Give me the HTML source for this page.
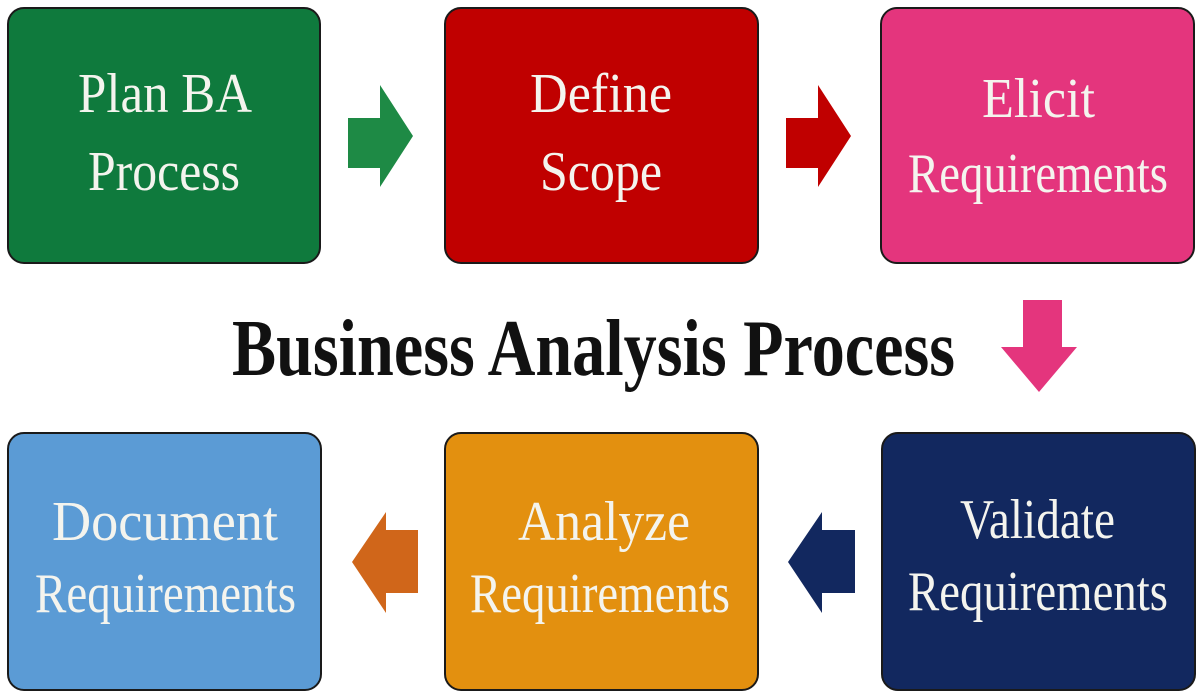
<!DOCTYPE html>
<html><head><meta charset="utf-8"><style>html,body{margin:0;padding:0;background:#fff}svg{display:block}</style></head>
<body>
<svg width="1200" height="699" viewBox="0 0 1200 699" xmlns="http://www.w3.org/2000/svg">
<g stroke="#1a1a1a" stroke-width="2">
<rect x="8" y="8" width="312" height="255" rx="16" fill="#0f7a3d"/>
<rect x="445" y="8" width="313" height="255" rx="16" fill="#c00000"/>
<rect x="881" y="8" width="313" height="255" rx="16" fill="#e4357d"/>
<rect x="8" y="433" width="313" height="257" rx="16" fill="#5b9bd5"/>
<rect x="445" y="433" width="313" height="257" rx="16" fill="#e3900f"/>
<rect x="882" y="433" width="313" height="257" rx="16" fill="#12285f"/>
</g>
<polygon points="348,118 380,118 380,85 413,136 380,187 380,168 348,168" fill="#1e8a45"/>
<polygon points="786,118 818,118 818,85 851,136 818,187 818,168 786,168" fill="#c00000"/>
<polygon points="1023,300 1062,300 1062,347 1077,347 1039,392 1001,347 1023,347" fill="#e4357d"/>
<polygon points="855,530 822,530 822,512 788,562 822,613 822,593 855,593" fill="#12285f"/>
<polygon points="418,530 386,530 386,512 352,562 386,613 386,593 418,593" fill="#d0661a"/>
<g font-family="Liberation Serif, serif" font-size="56" fill="#f4f4ee" lengthAdjust="spacingAndGlyphs">
<text x="78" y="112" textLength="174" lengthAdjust="spacingAndGlyphs">Plan BA</text>
<text x="88" y="190" textLength="152" lengthAdjust="spacingAndGlyphs">Process</text>
<text x="530" y="112" textLength="142" lengthAdjust="spacingAndGlyphs">Define</text>
<text x="540" y="190" textLength="122" lengthAdjust="spacingAndGlyphs">Scope</text>
<text x="982" y="117" textLength="113" lengthAdjust="spacingAndGlyphs">Elicit</text>
<text x="908" y="192" textLength="260" lengthAdjust="spacingAndGlyphs">Requirements</text>
<text x="52" y="540" textLength="226" lengthAdjust="spacingAndGlyphs">Document</text>
<text x="35" y="612" textLength="261" lengthAdjust="spacingAndGlyphs">Requirements</text>
<text x="518" y="540" textLength="172" lengthAdjust="spacingAndGlyphs">Analyze</text>
<text x="470" y="612" textLength="260" lengthAdjust="spacingAndGlyphs">Requirements</text>
<text x="960" y="538" textLength="155" lengthAdjust="spacingAndGlyphs">Validate</text>
<text x="908" y="610" textLength="260" lengthAdjust="spacingAndGlyphs">Requirements</text>
</g>
<text x="232" y="375" font-family="Liberation Serif, serif" font-weight="bold" font-size="80" fill="#111" textLength="723" lengthAdjust="spacingAndGlyphs">Business Analysis Process</text>
</svg>
</body></html>
